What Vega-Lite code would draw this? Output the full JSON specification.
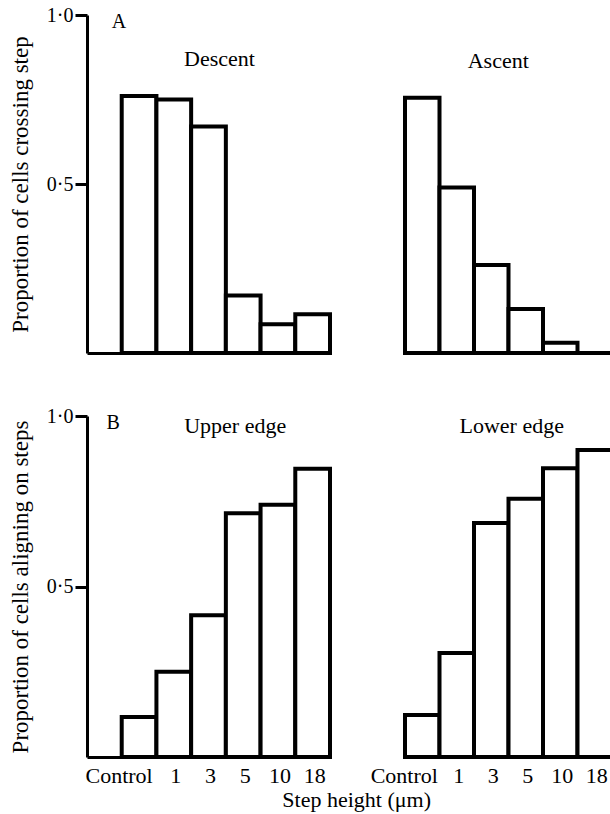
{
  "$schema": "https://vega.github.io/schema/vega-lite/v6.json",
  "padding": {"left": 9, "top": 5, "right": 0, "bottom": 2},
  "background": "white",
  "config": {
    "font": "Liberation Serif",
    "view": {"stroke": null},
    "axis": {
      "labelFont": "Liberation Serif", "titleFont": "Liberation Serif",
      "labelColor": "black", "titleColor": "black",
      "domainColor": "black", "tickColor": "black",
      "grid": false, "labelFontSize": 20, "titleFontSize": 23,
      "titleFontWeight": "normal", "domainWidth": 3, "tickWidth": 3
    }
  },
  "datasets": {
    "bars": [
      {"panel": "Descent", "step": "Control", "value": 0.76},
      {"panel": "Descent", "step": "1", "value": 0.75},
      {"panel": "Descent", "step": "3", "value": 0.67},
      {"panel": "Descent", "step": "5", "value": 0.17},
      {"panel": "Descent", "step": "10", "value": 0.085},
      {"panel": "Descent", "step": "18", "value": 0.115},
      {"panel": "Ascent", "step": "Control", "value": 0.755},
      {"panel": "Ascent", "step": "1", "value": 0.49},
      {"panel": "Ascent", "step": "3", "value": 0.26},
      {"panel": "Ascent", "step": "5", "value": 0.13},
      {"panel": "Ascent", "step": "10", "value": 0.03},
      {"panel": "Ascent", "step": "18", "value": 0},
      {"panel": "Upper edge", "step": "Control", "value": 0.117},
      {"panel": "Upper edge", "step": "1", "value": 0.25},
      {"panel": "Upper edge", "step": "3", "value": 0.416},
      {"panel": "Upper edge", "step": "5", "value": 0.715},
      {"panel": "Upper edge", "step": "10", "value": 0.74},
      {"panel": "Upper edge", "step": "18", "value": 0.845},
      {"panel": "Lower edge", "step": "Control", "value": 0.123},
      {"panel": "Lower edge", "step": "1", "value": 0.305},
      {"panel": "Lower edge", "step": "3", "value": 0.686},
      {"panel": "Lower edge", "step": "5", "value": 0.757},
      {"panel": "Lower edge", "step": "10", "value": 0.847},
      {"panel": "Lower edge", "step": "18", "value": 0.9}
    ],
    "one": [{"n": 1}]
  },
  "title": {"text": "Step height (μm)", "orient": "bottom", "anchor": "middle", "dx": 45, "offset": 4, "fontSize": 22, "fontWeight": "normal", "font": "Liberation Serif", "color": "black"},
  "spacing": 51,
  "vconcat": [
    {
      "spacing": 70,
      "hconcat": [
        {
          "width": 243, "height": 338,
          "layer": [
            {
              "data": {"name": "bars"},
              "transform": [{"filter": "datum.panel == 'Descent'"}],
              "mark": {"type": "bar", "fill": "white", "stroke": "black", "strokeWidth": 4, "strokeJoin": "miter"},
              "encoding": {
                "x": {"field": "step", "type": "nominal", "sort": null,
                      "scale": {"domain": ["Control", "1", "3", "5", "10", "18"], "paddingInner": 0, "paddingOuter": 0.5, "align": 1},
                      "axis": {"labels": false, "ticks": false, "title": null}},
                "y": {"field": "value", "type": "quantitative", "scale": {"domain": [0, 1]},
                      "axis": {"values": [0.5, 1], "labelExpr": "replace(format(datum.value, '.1f'), '.', '·')",
                               "title": "Proportion of cells crossing step", "tickSize": 12, "labelPadding": 2, "titlePadding": 14}}
              }
            },
            {
              "data": {"name": "one"},
              "mark": {"type": "text", "text": "A", "font": "Liberation Serif", "fontSize": 20, "fontWeight": "normal", "fill": "black", "dx": -20, "baseline": "middle"},
              "encoding": {"x": {"datum": "Control"}, "y": {"datum": 0.98}}
            },
            {
              "data": {"name": "one"},
              "mark": {"type": "text", "text": "Descent", "font": "Liberation Serif", "fontSize": 22, "fontWeight": "normal", "fill": "black", "dx": 11, "baseline": "middle"},
              "encoding": {"x": {"datum": "3"}, "y": {"datum": 0.87}}
            }
          ]
        },
        {
          "width": 207, "height": 338,
          "layer": [
            {
              "data": {"name": "bars"},
              "transform": [{"filter": "datum.panel == 'Ascent'"}],
              "mark": {"type": "bar", "fill": "white", "stroke": "black", "strokeWidth": 4, "strokeJoin": "miter"},
              "encoding": {
                "x": {"field": "step", "type": "nominal", "sort": null,
                      "scale": {"domain": ["Control", "1", "3", "5", "10", "18"], "paddingInner": 0, "paddingOuter": 0},
                      "axis": {"labels": false, "ticks": false, "title": null}},
                "y": {"field": "value", "type": "quantitative", "scale": {"domain": [0, 1]}, "axis": null}
              }
            },
            {
              "data": {"name": "one"},
              "mark": {"type": "text", "text": "Ascent", "font": "Liberation Serif", "fontSize": 22, "fontWeight": "normal", "fill": "black", "dx": 7, "baseline": "middle"},
              "encoding": {"x": {"datum": "3"}, "y": {"datum": 0.865}}
            }
          ]
        }
      ]
    },
    {
      "spacing": 37,
      "hconcat": [
        {
          "width": 243, "height": 341,
          "layer": [
            {
              "data": {"name": "bars"},
              "transform": [{"filter": "datum.panel == 'Upper edge'"}],
              "mark": {"type": "bar", "fill": "white", "stroke": "black", "strokeWidth": 4, "strokeJoin": "miter"},
              "encoding": {
                "x": {"field": "step", "type": "nominal", "sort": null,
                      "scale": {"domain": ["Control", "1", "3", "5", "10", "18"], "paddingInner": 0, "paddingOuter": 0.5, "align": 1},
                      "axis": {"ticks": false, "title": null, "labelAngle": 0, "labelFontSize": 22, "labelPadding": 8,
                               "labelOffset": {"condition": {"test": "datum.value == 'Control'", "value": -20}, "value": 2}}},
                "y": {"field": "value", "type": "quantitative", "scale": {"domain": [0, 1]},
                      "axis": {"values": [0.5, 1], "labelExpr": "replace(format(datum.value, '.1f'), '.', '·')",
                               "title": "Proportion of cells aligning on steps", "tickSize": 12, "labelPadding": 2, "titlePadding": 14}}
              }
            },
            {
              "data": {"name": "one"},
              "mark": {"type": "text", "text": "B", "font": "Liberation Serif", "fontSize": 20, "fontWeight": "normal", "fill": "black", "dx": -26, "baseline": "middle"},
              "encoding": {"x": {"datum": "Control"}, "y": {"datum": 0.98}}
            },
            {
              "data": {"name": "one"},
              "mark": {"type": "text", "text": "Upper edge", "font": "Liberation Serif", "fontSize": 22, "fontWeight": "normal", "fill": "black", "dx": -8, "baseline": "middle"},
              "encoding": {"x": {"datum": "5"}, "y": {"datum": 0.97}}
            }
          ]
        },
        {
          "width": 207, "height": 341,
          "layer": [
            {
              "data": {"name": "bars"},
              "transform": [{"filter": "datum.panel == 'Lower edge'"}],
              "mark": {"type": "bar", "fill": "white", "stroke": "black", "strokeWidth": 4, "strokeJoin": "miter"},
              "encoding": {
                "x": {"field": "step", "type": "nominal", "sort": null,
                      "scale": {"domain": ["Control", "1", "3", "5", "10", "18"], "paddingInner": 0, "paddingOuter": 0},
                      "axis": {"ticks": false, "title": null, "labelAngle": 0, "labelFontSize": 22, "labelPadding": 8,
                               "labelOffset": {"condition": {"test": "datum.value == 'Control'", "value": -18}, "value": 2}}},
                "y": {"field": "value", "type": "quantitative", "scale": {"domain": [0, 1]}, "axis": null}
              }
            },
            {
              "data": {"name": "one"},
              "mark": {"type": "text", "text": "Lower edge", "font": "Liberation Serif", "fontSize": 22, "fontWeight": "normal", "fill": "black", "dx": -14, "baseline": "middle"},
              "encoding": {"x": {"datum": "5"}, "y": {"datum": 0.97}}
            }
          ]
        }
      ]
    }
  ]
}
